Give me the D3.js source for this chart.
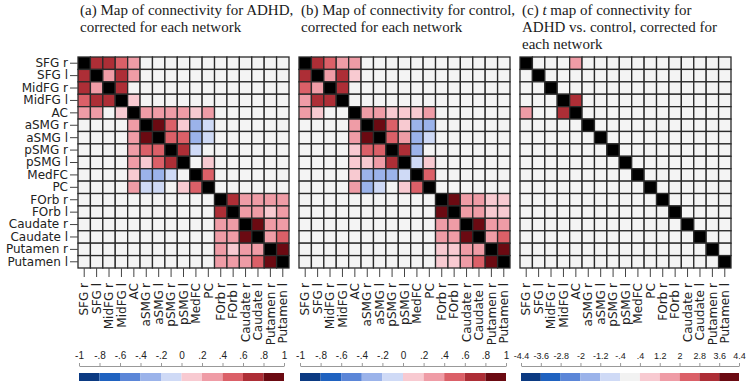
<!DOCTYPE html>
<html>
<head>
<meta charset="utf-8">
<script src="https://cdn.jsdelivr.net/npm/d3@7"></script>
<style>
  body { margin: 0; background: #fff; }
  svg { display: block; }
  .title { font-family: "Liberation Serif", "Times New Roman", serif; font-size: 15px; fill: #1a1a1a; }
  .lab text { font-family: "DejaVu Sans", Arial, sans-serif; font-size: 12px; fill: #222; }
  .cbar text { font-family: "Liberation Sans", Arial, sans-serif; font-size: 10px; fill: #222; }
  .cbar.t text { font-size: 9px; }
</style>
</head>
<body>
<svg id="chart" width="747" height="389"></svg>
<script>
// regions (rows and columns, same order)
const regions = ["SFG r", "SFG l", "MidFG r", "MidFG l", "AC", "aSMG r", "aSMG l", "pSMG r", "pSMG l",
  "MedFC", "PC", "FOrb r", "FOrb l", "Caudate r", "Caudate l", "Putamen r", "Putamen l"];

// (a) ADHD connectivity, 0 = not significant
const adhd = [
  [1, .7, .7, .5, .3, 0, 0, 0, 0, 0, 0, 0, 0, 0, 0, 0, 0],
  [.7, 1, .3, .7, .3, 0, 0, 0, 0, 0, 0, 0, 0, 0, 0, 0, 0],
  [.7, .3, 1, .7, 0, 0, 0, 0, 0, 0, 0, 0, 0, 0, 0, 0, 0],
  [.5, .7, .7, 1, .1, 0, 0, 0, 0, 0, 0, 0, 0, 0, 0, 0, 0],
  [.3, .3, 0, .1, 1, .3, .3, .3, .3, .1, .3, 0, 0, 0, 0, 0, 0],
  [0, 0, 0, 0, .3, 1, .9, .5, .1, -.3, -.1, 0, 0, 0, 0, 0, 0],
  [0, 0, 0, 0, .3, .9, 1, .5, .5, -.3, -.1, 0, 0, 0, 0, 0, 0],
  [0, 0, 0, 0, .3, .5, .5, 1, .7, -.1, 0, 0, 0, 0, 0, 0, 0],
  [0, 0, 0, 0, .3, .1, .5, .7, 1, 0, .1, 0, 0, 0, 0, 0, 0],
  [0, 0, 0, 0, .1, -.3, -.3, -.1, 0, 1, .5, 0, 0, 0, 0, 0, 0],
  [0, 0, 0, 0, .3, -.1, -.1, 0, .1, .5, 1, 0, 0, 0, 0, 0, 0],
  [0, 0, 0, 0, 0, 0, 0, 0, 0, 0, 0, 1, .7, .3, .3, .3, .3],
  [0, 0, 0, 0, 0, 0, 0, 0, 0, 0, 0, .7, 1, .3, .3, .1, .3],
  [0, 0, 0, 0, 0, 0, 0, 0, 0, 0, 0, .3, .3, 1, .9, .3, .3],
  [0, 0, 0, 0, 0, 0, 0, 0, 0, 0, 0, .3, .3, .9, 1, .3, .5],
  [0, 0, 0, 0, 0, 0, 0, 0, 0, 0, 0, .3, .1, .3, .3, 1, .9],
  [0, 0, 0, 0, 0, 0, 0, 0, 0, 0, 0, .3, .3, .3, .5, .9, 1]
];

// (b) control connectivity
const control = [
  [1, .7, .5, .3, .3, 0, 0, 0, 0, 0, 0, 0, 0, 0, 0, 0, 0],
  [.7, 1, .3, .7, .1, 0, 0, 0, 0, 0, 0, 0, 0, 0, 0, 0, 0],
  [.5, .3, 1, .7, 0, 0, 0, 0, 0, 0, 0, 0, 0, 0, 0, 0, 0],
  [.3, .7, .7, 1, 0, 0, 0, 0, 0, 0, 0, 0, 0, 0, 0, 0, 0],
  [.3, .1, 0, 0, 1, .3, .3, .1, .1, .1, .3, 0, 0, 0, 0, 0, 0],
  [0, 0, 0, 0, .3, 1, .9, .5, .1, -.3, -.3, 0, 0, 0, 0, 0, 0],
  [0, 0, 0, 0, .3, .9, 1, .5, .3, -.3, -.1, 0, 0, 0, 0, 0, 0],
  [0, 0, 0, 0, .1, .5, .5, 1, .7, -.3, 0, 0, 0, 0, 0, 0, 0],
  [0, 0, 0, 0, .1, .1, .3, .7, 1, -.1, .1, 0, 0, 0, 0, 0, 0],
  [0, 0, 0, 0, .1, -.3, -.3, -.3, -.1, 1, .5, 0, 0, 0, 0, 0, 0],
  [0, 0, 0, 0, .3, -.3, -.1, 0, .1, .5, 1, 0, 0, 0, 0, 0, 0],
  [0, 0, 0, 0, 0, 0, 0, 0, 0, 0, 0, 1, .9, .3, .3, .1, .1],
  [0, 0, 0, 0, 0, 0, 0, 0, 0, 0, 0, .9, 1, .3, .3, .1, .1],
  [0, 0, 0, 0, 0, 0, 0, 0, 0, 0, 0, .3, .3, 1, .9, .3, .3],
  [0, 0, 0, 0, 0, 0, 0, 0, 0, 0, 0, .3, .3, .9, 1, .3, .5],
  [0, 0, 0, 0, 0, 0, 0, 0, 0, 0, 0, .1, .1, .3, .3, 1, .9],
  [0, 0, 0, 0, 0, 0, 0, 0, 0, 0, 0, .1, .1, .3, .5, .9, 1]
];

// (c) t values ADHD vs control (only significant pairs)
const tPairs = [
  { r: 0, c: 4, t: 1.6 },
  { r: 3, c: 4, t: 3.0 }
];

const rTicks = [-1, -.8, -.6, -.4, -.2, 0, .2, .4, .6, .8, 1];
const tTicks = [-4.4, -3.6, -2.8, -2, -1.2, -.4, .4, 1.2, 2, 2.8, 3.6, 4.4];
const rColors = ["#0b3a82", "#1f62c0", "#5b86d8", "#9bb3ea", "#cfdaf6",
  "#f8cad1", "#ef9ca6", "#db6068", "#ad2e36", "#6b0a12"];
const tColors = ["#0b3a82", "#1f62c0", "#5b86d8", "#9bb3ea", "#cfdaf6", "#f2f2f2",
  "#f8cad1", "#ef9ca6", "#db6068", "#ad2e36", "#6b0a12"];

const titles = [
  ["(a) Map of connectivity for ADHD,", "corrected for each network"],
  ["(b) Map of connectivity for control,", "corrected for each network"],
  ["(c) |t| map of connectivity for", "ADHD vs. control, corrected for", "each network"]
];

// t matrix from pairs
const tMatrix = regions.map((_, i) => regions.map((_, j) => (i === j ? 1 : 0)));
tPairs.forEach(p => { tMatrix[p.r][p.c] = p.t; tMatrix[p.c][p.r] = p.t; });

const svg = d3.select("#chart");
const gridTop = 57, gridSize = 211;
const panels = [
  { x: 78, m: adhd, ticks: rTicks, colors: rColors, bar: [79, 284], title: titles[0], cls: "cbar" },
  { x: 299, m: control, ticks: rTicks, colors: rColors, bar: [300, 506], title: titles[1], cls: "cbar" },
  { x: 520, m: tMatrix, ticks: tTicks, colors: tColors, bar: [521, 739], title: titles[2], cls: "cbar t" }
];

const fmt = v => (v === 0 ? "0" : String(v).replace("0.", "."));

panels.forEach((p, k) => {
  const g = svg.append("g").attr("transform", `translate(${p.x},${gridTop})`);
  const x = d3.scaleBand().domain(regions).range([0, gridSize]);
  const y = d3.scaleBand().domain(regions).range([0, gridSize]);
  const color = d3.scaleThreshold().domain(p.ticks.slice(1, -1)).range(p.colors);

  const cells = [];
  p.m.forEach((row, i) => row.forEach((v, j) => cells.push({ i, j, v })));

  g.selectAll("rect.cell").data(cells).join("rect")
    .attr("class", "cell")
    .attr("x", d => x(regions[d.j]))
    .attr("y", d => y(regions[d.i]))
    .attr("width", x.bandwidth())
    .attr("height", y.bandwidth())
    .attr("fill", d => d.i === d.j ? "#000" : (d.v === 0 ? "#f4f4f4" : color(d.v)))
    .attr("stroke", "#2a2a2a")
    .attr("stroke-width", 1.3);

  // bottom ticks + rotated labels
  const xa = g.append("g").attr("class", "lab")
    .attr("transform", `translate(0,${gridSize})`)
    .call(d3.axisBottom(x).tickSize(9).tickSizeOuter(0));
  xa.select(".domain").remove();
  xa.selectAll(".tick line").attr("stroke", "#444");
  xa.selectAll("text")
    .attr("transform", "rotate(-90)")
    .attr("text-anchor", "end")
    .attr("x", -15).attr("y", 0).attr("dy", "0.35em");

  if (k === 0) {
    const ya = g.append("g").attr("class", "lab")
      .call(d3.axisLeft(y).tickSize(8).tickSizeOuter(0));
    ya.select(".domain").remove();
    ya.selectAll(".tick line").attr("stroke", "#444");
    ya.selectAll("text").attr("x", -10);
  }

  // titles
  const tt = svg.append("text").attr("class", "title");
  p.title.forEach((line, li) => {
    const ts = tt.append("tspan").attr("x", p.x + 2).attr("y", 15 + li * 17);
    if (line.includes("|t|")) {
      const parts = line.split("|t|");
      ts.append("tspan").text(parts[0]);
      ts.append("tspan").attr("font-style", "italic").text("t");
      ts.append("tspan").text(parts[1]);
    } else {
      ts.text(line);
    }
  });

  // colour bar
  const cx = d3.scaleLinear().domain([p.ticks[0], p.ticks[p.ticks.length - 1]]).range(p.bar);
  const cb = svg.append("g").attr("class", p.cls);
  cb.selectAll("rect").data(p.colors).join("rect")
    .attr("x", (d, i) => cx(p.ticks[i]))
    .attr("y", 373)
    .attr("width", (d, i) => cx(p.ticks[i + 1]) - cx(p.ticks[i]))
    .attr("height", 8)
    .attr("fill", d => d);
  const ca = cb.append("g").attr("transform", "translate(0,366)")
    .call(d3.axisTop(cx).tickValues(p.ticks).tickFormat(fmt).tickSize(3).tickSizeOuter(0).tickPadding(4));
  ca.select(".domain").attr("stroke", "#999");
  ca.selectAll(".tick line").attr("stroke", "#999");
});
</script>
</body>
</html>
